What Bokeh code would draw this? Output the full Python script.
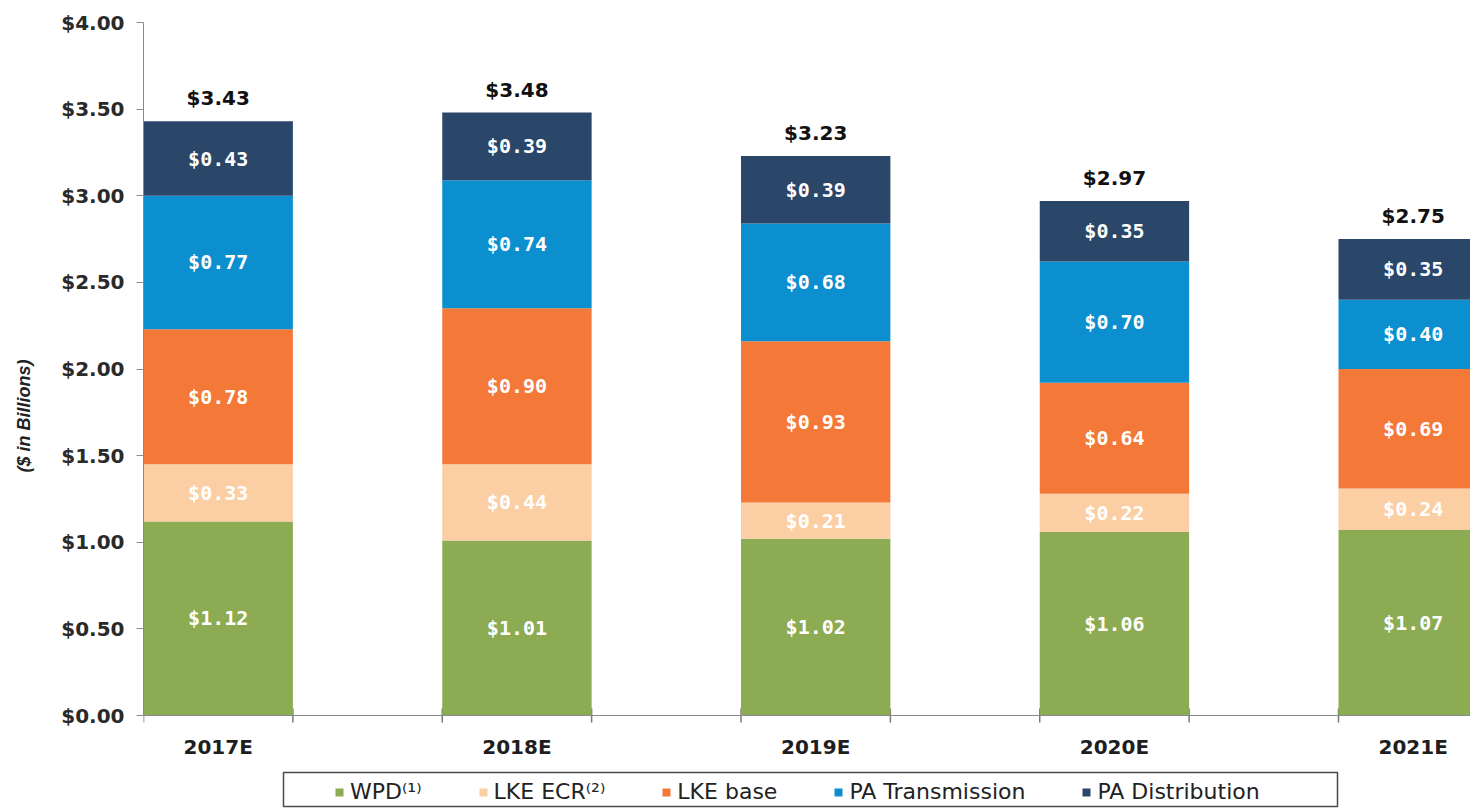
import numpy as np
from bokeh.plotting import figure
from bokeh.models import (ColumnDataSource, Range1d, FixedTicker, Legend, LegendItem,
                          NumeralTickFormatter, Span, BoxAnnotation)
from bokeh.core.properties import value
from bokeh.embed import file_html
from bokeh.resources import INLINE

years = ["2017E", "2018E", "2019E", "2020E", "2021E"]
series = ["WPD⁽¹⁾", "LKE ECR⁽²⁾", "LKE base", "PA Transmission", "PA Distribution"]
wpd = [1.12, 1.01, 1.02, 1.06, 1.07]
lke_ecr = [0.33, 0.44, 0.21, 0.22, 0.24]
lke_base = [0.78, 0.90, 0.93, 0.64, 0.69]
pa_trans = [0.77, 0.74, 0.68, 0.70, 0.40]
pa_dist = [0.43, 0.39, 0.39, 0.35, 0.35]
totals = [3.43, 3.48, 3.23, 2.97, 2.75]
y_ticks = [0.0, 0.5, 1.0, 1.5, 2.0, 2.5, 3.0, 3.5, 4.0]

colors = ["#8dab52", "#fbcfa3", "#f47838", "#0b8fcf", "#2a4669"]
keys = ["wpd", "lke_ecr", "lke_base", "pa_trans", "pa_dist"]
vals = [wpd, lke_ecr, lke_base, pa_trans, pa_dist]

W, H = 1470, 809
LEFT, TOP = 143, 22
ZERO_PX = 715            # pixel row of the zero line
BAR_W = 0.5
PX_PER_CAT = 298.75
ymax = 4.0
ymin = -ymax * (H - ZERO_PX) / (ZERO_PX - TOP)
xmin = -BAR_W / 2
xmax = xmin + (W - LEFT) / PX_PER_CAT

x = list(range(len(years)))
data = {"x": x}
for k, v in zip(keys, vals):
    data[k] = v
src = ColumnDataSource(data)

p = figure(width=W, height=H, output_backend="svg", toolbar_location=None,
           x_range=Range1d(xmin, xmax), y_range=Range1d(ymin, ymax),
           x_axis_location=None,
           min_border_left=LEFT, min_border_right=0, min_border_top=TOP, min_border_bottom=0)
p.outline_line_color = None
p.grid.visible = False

# x-axis tick marks at bar edges (drawn under bars so only the lower half shows)
edges = sorted([c - BAR_W / 2 for c in x] + [c + BAR_W / 2 for c in x])
p.scatter(x=edges, y=[0] * len(edges), marker="dash", angle=np.pi / 2, size=14,
          line_color="#7a7a7a", line_width=1.5, level="underlay")

rs = p.vbar_stack(keys, x="x", width=BAR_W, color=colors, line_color=None, source=src)

# zero line (x axis)
p.add_layout(Span(location=0, dimension="width", line_color="#8a8a8a", line_width=1.2))

# segment labels
arr = np.array(vals)
cum = np.cumsum(arr, axis=0)
mids = cum - arr / 2.0
lx, ly, lt = [], [], []
for i in range(arr.shape[0]):
    for j in range(arr.shape[1]):
        lx.append(x[j]); ly.append(mids[i, j]); lt.append("$%.2f" % arr[i, j])
p.text(x=lx, y=ly, text=lt, text_color="white", text_align="center", text_baseline="middle",
       text_font=value("DejaVu Sans Mono"), text_font_style="bold", text_font_size="20px")

# totals
p.text(x=x, y=totals, text=["$%.2f" % t for t in totals], text_color="#111111",
       text_align="center", text_baseline="alphabetic", y_offset=-23,
       text_font=value("DejaVu Sans"), text_font_style="bold", text_font_size="20px")

# category labels
p.text(x=x, y=[0] * len(x), text=years, text_color="#1e1e1e",
       text_align="center", text_baseline="middle", y_offset=31,
       text_font=value("DejaVu Sans"), text_font_style="bold", text_font_size="20px")

# y axis
p.yaxis.bounds = (0, ymax)
p.yaxis.ticker = FixedTicker(ticks=y_ticks)
p.yaxis.formatter = NumeralTickFormatter(format="$0.00")
p.yaxis.major_label_text_font = "DejaVu Sans"
p.yaxis.major_label_text_font_style = "bold"
p.yaxis.major_label_text_font_size = "20px"
p.yaxis.major_label_text_color = "#2a2a2a"
p.yaxis.major_tick_out = 7
p.yaxis.major_tick_in = 0
p.yaxis.minor_tick_line_color = None
p.yaxis.axis_line_color = "#8a8a8a"
p.yaxis.major_tick_line_color = "#8a8a8a"
p.yaxis.major_label_standoff = 12
p.yaxis.axis_label = "($ in Billions)"
p.yaxis.axis_label_text_font = "Liberation Sans"
p.yaxis.axis_label_text_font_style = "bold italic"
p.yaxis.axis_label_text_font_size = "18px"
p.yaxis.axis_label_text_color = "#222222"
p.yaxis.axis_label_standoff = 24

# legend frame
p.add_layout(BoxAnnotation(left=(283 - LEFT) / PX_PER_CAT + xmin, right=(1337 - LEFT) / PX_PER_CAT + xmin,
                           top=-(772 - ZERO_PX) * ymax / (ZERO_PX - TOP),
                           bottom=-(806 - ZERO_PX) * ymax / (ZERO_PX - TOP),
                           fill_alpha=0, line_color="#4a4a4a", line_width=1.5, line_alpha=1))

legend = Legend(items=[LegendItem(label=s, renderers=[r]) for s, r in zip(series, rs)],
                orientation="horizontal", location=(191, 5), margin=0,
                border_line_color=None, background_fill_alpha=0,
                label_text_font="DejaVu Sans", label_text_font_size="22px",
                label_text_color="#222222", glyph_width=10, glyph_height=10,
                label_standoff=6, spacing=56, padding=6)
p.add_layout(legend, "center")

open("out.html", "w").write(file_html(p, INLINE))
